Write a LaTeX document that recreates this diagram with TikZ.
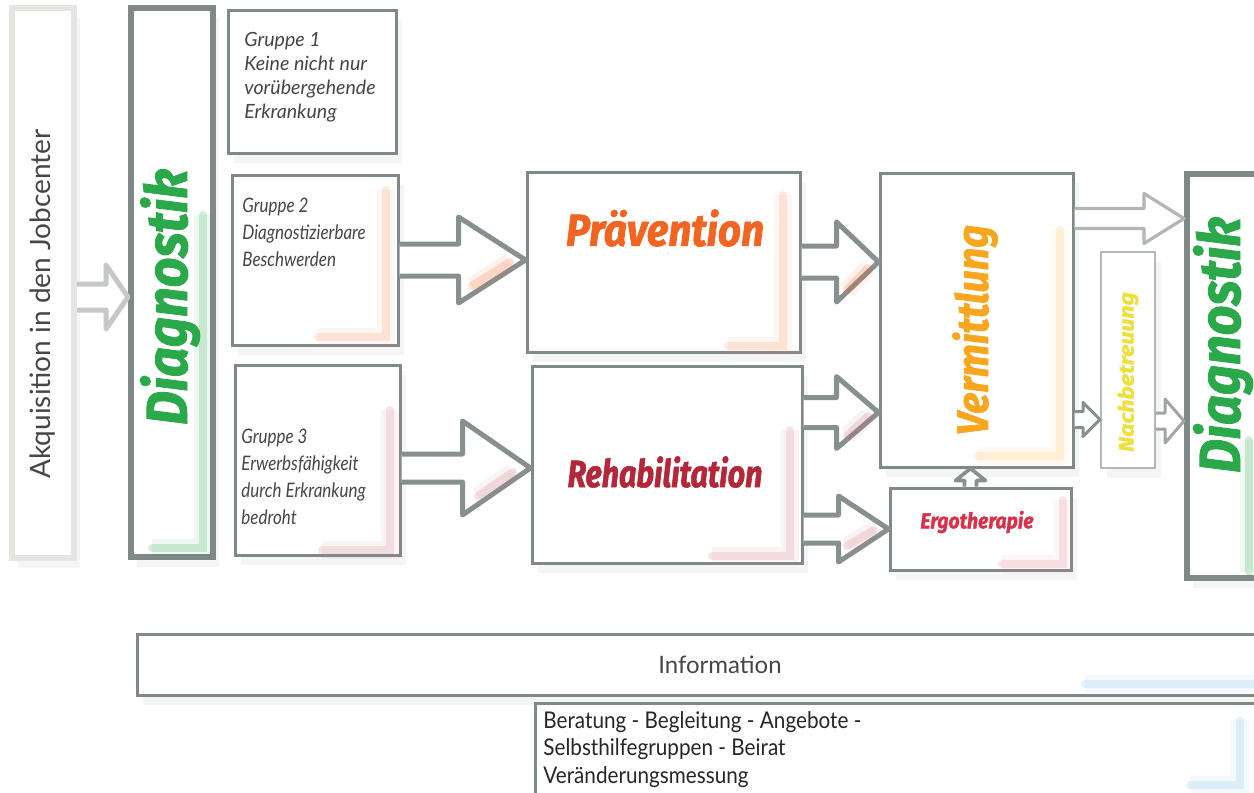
\documentclass[tikz,border=0pt]{standalone}
\usepackage{fontspec}
\setmainfont{Lato}
\newfontfamily\condfont{Lato}[FakeStretch=0.85]
\newfontfamily\bottomfont{Lato}[FakeStretch=0.9]
\newfontfamily\headfont{Fira Sans}[FakeStretch=0.9, FakeBold=1.5]
\newfontfamily\narrowhead{Fira Sans}[FakeStretch=0.8, FakeBold=1.5]
\newfontfamily\widehead{Fira Sans}[FakeStretch=1.1, FakeBold=1.2]
\usetikzlibrary{calc,shadows}

\definecolor{boxgray}{RGB}{128,136,136}
\definecolor{paleframe}{RGB}{228,229,224}
\definecolor{palearrow}{RGB}{196,200,200}
\definecolor{arrowgray}{RGB}{136,143,143}
\definecolor{textgray}{RGB}{70,70,70}
\definecolor{diagreen}{RGB}{42,168,74}
\definecolor{praevorange}{RGB}{242,100,34}
\definecolor{rehared}{RGB}{178,40,58}
\definecolor{vermorange}{RGB}{247,166,30}
\definecolor{ergored}{RGB}{215,50,75}
\definecolor{nachyellow}{RGB}{238,224,60}
\definecolor{infoblue}{RGB}{120,190,230}

\tikzset{
  box/.style={draw=boxgray, line width=1.5pt, fill=white, inner sep=0pt,
    drop shadow={opacity=0.08, shadow xshift=3pt, shadow yshift=-5pt}},
  bigbox/.style={box, line width=3pt},
  hollow/.style={draw=arrowgray, line width=2.5pt, fill=white, line join=round},
  glow/.style={draw=#1, line width=4pt, opacity=0.2, line cap=round,
    preaction={draw=#1, line width=9pt, opacity=0.08}},
  headword/.style={font=\headfont\bfseries\itshape\fontsize{22.5}{25}\selectfont, inner sep=0pt},
}

% hollow arrow from #2 to #3: shaft half #4, head half #5, head length #6
\newcommand{\hollowarrow}[6][]{%
  \draw[hollow,#1] ($#2+(0,-#4)$) -- ($#3+(-#6,-#4)$) -- ($#3+(-#6,-#5)$) -- #3
    -- ($#3+(-#6,#5)$) -- ($#3+(-#6,#4)$) -- ($#2+(0,#4)$);}

\begin{document}
\begin{tikzpicture}[x=0.5pt,y=-0.5pt]
\useasboundingbox[fill=white] (0,0) rectangle (1254,793);

% boxes
\node[bigbox, draw=paleframe, minimum width=31pt, minimum height=275pt] (akq) at (43,283) {};
\node[bigbox, minimum width=41pt, minimum height=274.5pt] (diagL) at (172,282.5) {};
\node[box, minimum width=84pt, minimum height=71.5pt] (g1) at (312,81.5) {};
\node[box, minimum width=83pt, minimum height=85pt] (g2) at (315,260) {};
\node[box, minimum width=82.5pt, minimum height=95pt] (g3) at (317.5,460) {};
\node[box, minimum width=136.5pt, minimum height=90pt] (prae) at (663.5,262) {};
\node[box, minimum width=135pt, minimum height=98.5pt] (reha) at (667,464.5) {};
\node[box, minimum width=96.5pt, minimum height=147pt] (verm) at (976.5,320) {};
\node[box, minimum width=90.5pt, minimum height=41pt] (ergo) at (980.5,529) {};
\node[box, draw=boxgray!60, line width=1pt, minimum width=27pt, minimum height=108pt] (nach) at (1128,360) {};
\node[bigbox, minimum width=44pt, minimum height=202pt] (diagR) at (1231,376) {};
\node[box, minimum width=569pt, minimum height=30.5pt] (info) at (706,664.5) {};
\node[box, minimum width=370pt, minimum height=51pt] (more) at (905,754) {};

% coloured glow
\draw[glow=diagreen] (203,215) -- (203,548) -- (152,548);
\draw[glow=praevorange!70] (386,190) -- (386,337) -- (318,337);
\draw[glow=rehared!60] (390,410) -- (390,550) -- (322,550);
\draw[glow=praevorange!70] (783,195) -- (783,346) -- (728,346);
\draw[glow=rehared!60] (790,430) -- (790,556) -- (712,556);
\draw[glow=vermorange!70] (1060,230) -- (1060,456) -- (978,456);
\draw[glow=ergored!60] (1063,500) -- (1063,564) -- (1002,564);
\draw[glow=diagreen] (1249,440) -- (1249,572);
\draw[glow=infoblue] (1085,684) -- (1254,684);
\draw[glow=infoblue] (1190,785) -- (1240,785) -- (1240,720);

% texts
\node[rotate=90, text=textgray, font=\fontsize{14}{16}\selectfont, inner sep=0pt] (akqtext) at (43,304) {Akquisition in den Jobcenter};
\node[rotate=90, headword, text=diagreen, font=\headfont\bfseries\itshape\fontsize{29}{32}\selectfont] (diagLtext) at (170,297) {Diagnostik};
\node[rotate=90, headword, text=diagreen, font=\headfont\bfseries\itshape\fontsize{29}{32}\selectfont] (diagRtext) at (1223,345) {Diagnostik};
\node[anchor=north west, align=left, inner sep=0pt, text=textgray,
  font=\itshape\fontsize{9.8}{12}\selectfont] (g1text) at (244,32) {Gruppe 1\\Keine nicht nur\\vorübergehende\\Erkrankung};
\node[anchor=north west, align=left, inner sep=0pt, text=textgray,
  font=\condfont\itshape\fontsize{10}{13.5}\selectfont] (g2text) at (242,198) {Gruppe 2\\Diagnostizierbare\\Beschwerden};
\node[anchor=north west, align=left, inner sep=0pt, text=textgray,
  font=\condfont\itshape\fontsize{10}{13.4}\selectfont] (g3text) at (241,429) {Gruppe 3\\Erwerbsfähigkeit\\durch Erkrankung\\bedroht};
\node[headword, text=praevorange] (praetext) at (665,228) {Prävention};
\node[headword, text=rehared, font=\narrowhead\bfseries\itshape\fontsize{19}{22}\selectfont] (rehatext) at (665,472) {Rehabilitation};
\node[rotate=90, headword, text=vermorange, font=\headfont\bfseries\itshape\fontsize{22}{25}\selectfont] (vermtext) at (975,330) {Vermittlung};
\node[headword, text=ergored, font=\headfont\bfseries\itshape\fontsize{10.8}{13}\selectfont] (ergotext) at (977,522) {Ergotherapie};
\node[rotate=90, headword, text=nachyellow, font=\widehead\bfseries\itshape\fontsize{10.5}{12}\selectfont] (nachtext) at (1128,372) {Nachbetreuung};
\node[text=textgray, font=\fontsize{12}{14}\selectfont, inner sep=0pt] (infotext) at (720,665) {Information};
\node[anchor=north west, align=left, inner sep=0pt, text=black!85,
  font=\bottomfont\fontsize{11.5}{13.75}\selectfont] (moretext) at (543,711) {Beratung - Begleitung - Angebote -\\Selbsthilfegruppen - Beirat\\Veränderungsmessung};

% arrows
\coordinate (a2d) at ($(akq.east)+(0,14)$);
\hollowarrow[draw=palearrow]{(a2d)}{(a2d -| diagL.west)}{13}{32}{22}
\hollowarrow{(g2.east)}{(g2.east -| prae.west)}{16}{43}{67}
\coordinate (g3r) at ($(g3.east)+(0,8)$);
\hollowarrow{(g3r)}{(g3r -| reha.west)}{14}{47}{68}
\hollowarrow{(prae.east)}{(prae.east -| verm.west)}{16}{40}{42}
\coordinate (r2v) at ($(reha.east)+(0,-52)$);
\hollowarrow{(r2v)}{(r2v -| verm.west)}{15}{36}{42}
\hollowarrow{(reha.east |- ergo.west)}{(ergo.west)}{14}{33}{50}
\coordinate (v2d) at ($(verm.north east)+(0,47)$);
\hollowarrow[draw=arrowgray!65, line width=1.6pt]{(v2d)}{(v2d -| diagR.west)}{10}{25}{40}
\coordinate (v2n) at ($(verm.south east)+(0,-49)$);
\hollowarrow[line width=1.5pt]{(v2n)}{(v2n -| nach.west)}{8}{17}{17}
\coordinate (n2d) at ($(nach.south east)+(0,-48)$);
\hollowarrow[draw=arrowgray!80, line width=1.5pt]{(n2d)}{(n2d -| diagR.west)}{8}{22}{19}
\coordinate (e2v) at ($(ergo.north)+(-10,0)$);
\coordinate (e2vtip) at (e2v |- verm.south);
\draw[hollow, line width=1.8pt] ($(e2v)+(-6,0)$) -- ($(e2vtip)+(-6,12)$) -- ($(e2vtip)+(-15,12)$) -- (e2vtip)
  -- ($(e2vtip)+(15,12)$) -- ($(e2vtip)+(6,12)$) -- ($(e2v)+(6,0)$);

% tinted arrow heads
\draw[glow=praevorange] (472,286) -- (510,262);
\draw[glow=rehared!70] (478,496) -- (513,472);
\draw[glow=praevorange] (847,290) -- (868,268);
\draw[glow=rehared!70] (847,436) -- (868,416);
\draw[glow=rehared!70] (847,546) -- (874,530);
\end{tikzpicture}
\end{document}
